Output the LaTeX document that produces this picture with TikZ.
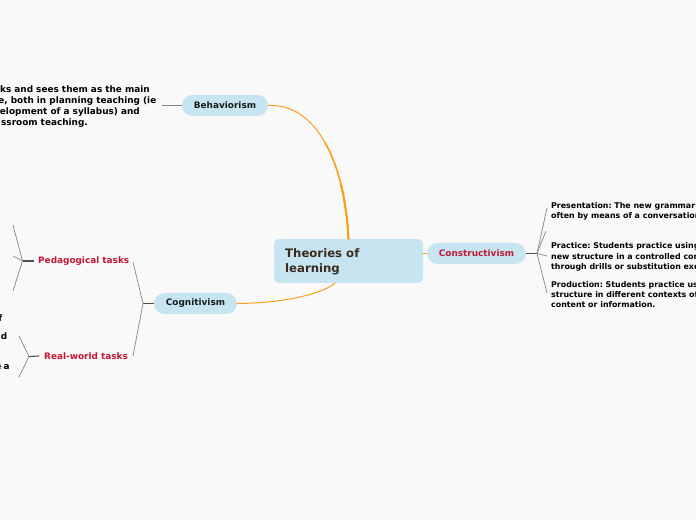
\documentclass[tikz,border=0pt]{standalone}
\usepackage{fontspec}
\setmainfont{DejaVu Sans}
\frenchspacing
\definecolor{bgc}{HTML}{F9F9F9}
\definecolor{pillc}{HTML}{C6E5F1}
\definecolor{crim}{RGB}{196,22,56}
\definecolor{orng}{HTML}{FF9E1B}
\definecolor{lgrey}{HTML}{858585}
\definecolor{dgrey}{HTML}{505050}
\definecolor{brownt}{RGB}{59,42,30}
\begin{document}
\begin{tikzpicture}[x=1pt,y=1pt,
  pill/.style={fill=pillc, rounded corners=10.5pt, minimum height=21pt, inner sep=0pt,
    font=\bfseries\fontsize{8.9}{11}\selectfont, text=black!90},
  redlbl/.style={inner sep=0pt, font=\bfseries\fontsize{8.9}{11}\selectfont, text=crim},
  leaf/.style={inner sep=0pt, font=\bfseries\fontsize{7.9}{10.5}\selectfont, text=black, anchor=base west},
  leftfrag/.style={inner sep=0pt, font=\bfseries\fontsize{8.9}{11}\selectfont, text=black, anchor=base east},
  fan/.style={draw=lgrey, line width=0.7pt},
  stub/.style={draw=dgrey, line width=1.1pt},
  orangeline/.style={draw=orng, line cap=round}
]
\useasboundingbox (0,0) rectangle (696,520);
\fill[bgc] (0,0) rectangle (696,520);
\clip (0,0) rectangle (696,520);

% central node
\node[fill=pillc, rounded corners=5pt, minimum width=149pt, minimum height=44pt, inner sep=0pt] (central) at (348.5,259) {};
\node[anchor=west, inner sep=0pt, align=left, text=brownt, font=\bfseries\fontsize{11.7}{15}\selectfont] (ctext) at (285,258.5) {Theories of\\learning};

% main branches
\node[pill, minimum width=86pt] (beh) at (225,414.5) {Behaviorism};
\node[pill, minimum width=83pt] (cog) at (195.5,216.5) {Cognitivism};
\node[pill, minimum width=99pt, text=crim] (con) at (476.5,266.5) {Constructivism};

% sub-branches of Cognitivism
\node[redlbl, anchor=west] (ped) at (38,259) {Pedagogical tasks};
\node[redlbl, anchor=west] (real) at (44,164) {Real-world tasks};

% orange connectors
\draw[orangeline, line width=1pt] (beh.east) .. controls (315,417) and (345,360) .. (central.north);
\draw[orangeline, line width=1.5pt] (324.5,378.4) .. controls (338.25,354.5) and (346.5,320.5) .. (central.north);
\draw[orangeline, line width=2.1pt] (340.9,335.56) .. controls (344.94,319.1) and (347.5,300.75) .. (central.north);
\draw[orangeline, line width=1pt] (cog.east) .. controls (290,217) and (325,228) .. (335,237);
\draw[orangeline, line width=1pt] (con.west) -- (con.west -| central.east);

% Behaviorism leaf
\coordinate (behleaf) at (162,414.5);
\draw[fan] (beh.west) -- (behleaf);
\node[leftfrag] (b1) at (150,427.5) {ks and sees them as the main};
\node[leftfrag] (b2) at (156.5,416.5) {e, both in planning teaching (ie};
\node[leftfrag] (b3) at (140,405) {elopment of a syllabus) and};
\node[leftfrag] (b4) at (88,394) {ssroom teaching.};

% Constructivism fan
\coordinate (conhub) at (537,266.5);
\draw[stub] (con.east) -- (conhub);
\coordinate (c1) at (547,312);
\coordinate (c2) at (546,289);
\coordinate (c3) at (547,264);
\coordinate (c4) at (547,227);
\draw[fan] (conhub) -- (c1);
\draw[fan] (conhub) -- (c2);
\draw[fan] (conhub) -- (c3);
\draw[fan] (conhub) -- (c4);
\node[leaf] (p1a) at (551,311.5) {Presentation: The new grammar};
\node[leaf] (p1b) at (551,301) {often by means of a conversation};
\node[leaf] (p2a) at (551,271) {Practice: Students practice using};
\node[leaf] (p2b) at (551,260.5) {new structure in a controlled con};
\node[leaf] (p2c) at (551,250) {through drills or substitution exer};
\node[leaf] (p3a) at (551,233) {Production: Students practice us};
\node[leaf] (p3b) at (551,222.5) {structure in different contexts of};
\node[leaf] (p3c) at (551,212) {content or information.};

% Cognitivism fan
\coordinate (coghub) at (143,216.5);
\draw[stub] (cog.west) -- (coghub);
\coordinate (g1) at (133,258);
\coordinate (g2) at (133,164);
\draw[fan] (coghub) -- (g1);
\draw[fan] (coghub) -- (g2);

% Pedagogical fan
\coordinate (pedhub) at (22.5,259);
\draw[stub] (ped.west) ++(-4,0) coordinate (pedstub) (pedstub) -- (pedhub);
\coordinate (d1) at (13,295);
\coordinate (d2) at (13,264);
\coordinate (d3) at (13,229);
\draw[fan] (pedhub) -- (d1);
\draw[fan] (pedhub) -- (d2);
\draw[fan] (pedhub) -- (d3);

% Real-world fan
\coordinate (realhub) at (29,163.5);
\draw[stub] (real.west) ++(-5,0) coordinate (realstub) (realstub) -- (realhub);
\coordinate (r1) at (19,184);
\coordinate (r2) at (19,143);
\draw[fan] (realhub) -- (r1);
\draw[fan] (realhub) -- (r2);
\node[leftfrag] (f1) at (2.4,198.5) {f};
\node[leftfrag] (f2) at (7.5,180.5) {d};
\node[leftfrag] (f3) at (9.8,151) {e\kern-1pt\ a};
\end{tikzpicture}
\end{document}
